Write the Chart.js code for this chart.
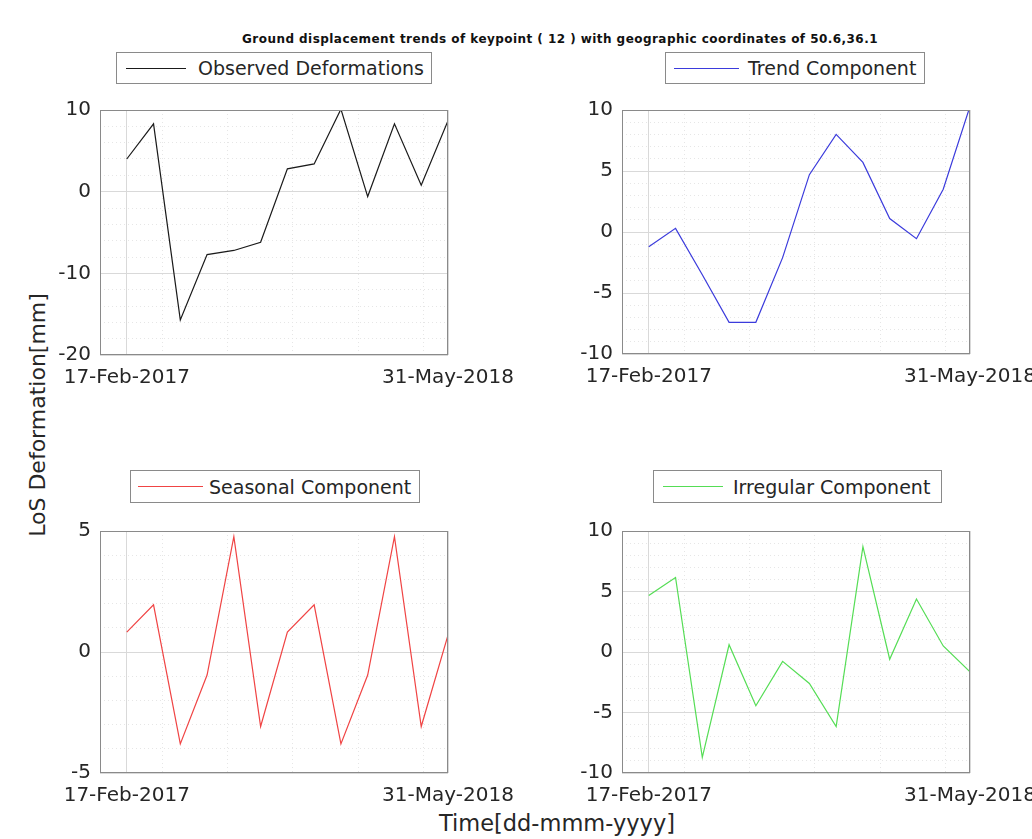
<!DOCTYPE html>
<html>
<head>
<meta charset="utf-8">
<script src="https://cdn.jsdelivr.net/npm/chart.js@4.4.0/dist/chart.umd.min.js"></script>
<style>
  html, body { margin: 0; padding: 0; background: #fff; }
  body { width: 1032px; height: 839px; overflow: hidden; position: relative; font-family: "DejaVu Sans", sans-serif; }
  canvas.panel { position: absolute; }
  #title { position: absolute; left: 0; width: 1120px; top: 32px; text-align: center; font-weight: bold; font-size: 12px; letter-spacing: 0.45px; color: #111; white-space: nowrap; }
  #xtitle { position: absolute; left: 0; width: 1114px; top: 810px; text-align: center; font-size: 22.5px; color: #262626; white-space: nowrap; }
  #ytitle { position: absolute; left: 37px; top: 415px; transform: translate(-50%, -50%) rotate(-90deg); font-size: 22px; color: #262626; white-space: nowrap; }
  .legend { position: absolute; box-sizing: border-box; border: 1px solid #8a8a8a; background: #fff; font-size: 19px; color: #262626; display: flex; align-items: center; white-space: nowrap; }
  .legend .swatch { display: inline-block; height: 0; border-top: 1px solid; }
</style>
</head>
<body>
<div id="title">Ground displacement trends of keypoint ( 12 ) with geographic coordinates of 50.6,36.1</div>
<div id="ytitle">LoS Deformation[mm]</div>
<div id="xtitle">Time[dd-mmm-yyyy]</div>

<script>
// Time-series decomposition of the LoS displacement at keypoint 12 (13 acquisitions)
const dateTicks = ['17-Feb-2017', '31-May-2018'];

const observed  = [4.0, 8.3, -15.7, -7.7, -7.2, -6.2, 2.8, 3.4, 10.1, -0.6, 8.3, 0.8, 8.7];
const trend     = [-1.2, 0.3, -3.5, -7.4, -7.4, -2.1, 4.7, 8.0, 5.7, 1.1, -0.55, 3.5, 10.3];
const seasonal  = [0.82, 1.95, -3.8, -0.95, 4.77, -3.08, 0.82, 1.95, -3.8, -0.95, 4.77, -3.08, 0.7];
const irregular = [4.66, 6.16, -8.7, 0.6, -4.44, -0.77, -2.6, -6.16, 8.7, -0.6, 4.38, 0.5, -1.64];

// minor vertical grid positions, in acquisition-index units
const minorTimeGrid = [1.35, 3.78, 6.2, 8.65, 11.1];

const panels = [
  { label: 'Observed Deformations', values: observed,  color: '#1a1a1a', yMin: -20, yMax: 10, major: 10, minor: 2,
    box: { left: 100, top: 109, width: 348, height: 246 }, legend: { left: 116, top: 52, width: 316, height: 32, line: 60, gap: 12, pad: 9 } },
  { label: 'Trend Component',       values: trend,     color: '#3b3bdc', yMin: -10, yMax: 10, major: 5, minor: 1,
    box: { left: 622, top: 109, width: 348, height: 245 }, legend: { left: 665, top: 52, width: 260, height: 32, line: 65, gap: 9, pad: 8 } },
  { label: 'Seasonal Component',    values: seasonal,  color: '#f04444', yMin: -5, yMax: 5, major: 5, minor: 1,
    box: { left: 100, top: 530, width: 348, height: 243 }, legend: { left: 130, top: 470, width: 290, height: 33, line: 65, gap: 6, pad: 7 } },
  { label: 'Irregular Component',   values: irregular, color: '#55dd55', yMin: -10, yMax: 10, major: 5, minor: 1,
    box: { left: 622, top: 530, width: 348, height: 243 }, legend: { left: 653, top: 470, width: 289, height: 33, line: 60, gap: 10, pad: 9 } }
];

const PAD_L = 80, PAD_T = 20, PAD_R = 90, PAD_B = 52;

// MATLAB-style full box around the axes
const axesBox = {
  id: 'axesBox',
  afterDatasetsDraw(chart) {
    const { ctx, chartArea: a } = chart;
    ctx.save();
    ctx.strokeStyle = '#8a8a8a';
    ctx.lineWidth = 1;
    ctx.strokeRect(Math.round(a.left) + 0.5, Math.round(a.top) + 0.5, Math.round(a.right - a.left) - 1, Math.round(a.bottom - a.top) - 1);
    ctx.restore();
  }
};

panels.forEach((p) => {
  const cv = document.createElement('canvas');
  cv.className = 'panel';
  const w = p.box.width + PAD_L + PAD_R, h = p.box.height + PAD_T + PAD_B;
  cv.width = w; cv.height = h;
  cv.style.left = (p.box.left - PAD_L) + 'px';
  cv.style.top = (p.box.top - PAD_T) + 'px';
  cv.style.width = w + 'px'; cv.style.height = h + 'px';
  document.body.appendChild(cv);

  const lastIdx = p.values.length - 1;
  const points = p.values.map((v, i) => ({ x: i, y: v }));
  const isMajorX = (c) => c.tick && (c.tick.value === 0 || c.tick.value === lastIdx);
  const isMajorY = (c) => c.tick && Math.abs(c.tick.value % p.major) < 1e-9;

  new Chart(cv.getContext('2d'), {
    type: 'line',
    data: { datasets: [{ data: points, borderColor: p.color, borderWidth: 1.2, pointRadius: 0, tension: 0, fill: false }] },
    options: {
      responsive: false,
      animation: false,
      events: [],
      layout: { padding: { left: 0, top: PAD_T, right: PAD_R, bottom: 0 } },
      plugins: { legend: { display: false }, tooltip: { enabled: false } },
      scales: {
        x: {
          type: 'linear', min: -1, max: lastIdx,
          afterBuildTicks(scale) {
            scale.ticks = [0, ...minorTimeGrid, lastIdx].map(v => ({ value: v }));
          },
          afterFit(scale) { scale.height = PAD_B; },
          ticks: {
            autoSkip: false, maxRotation: 0, minRotation: 0, padding: 11,
            color: '#262626', font: { family: 'DejaVu Sans', size: 20 },
            callback: (v) => v === 0 ? dateTicks[0] : (v === lastIdx ? dateTicks[1] : '')
          },
          grid: { drawTicks: false, lineWidth: 1, color: (c) => isMajorX(c) ? '#d9d9d9' : '#e6e6e6' },
          border: { display: false, dash: (c) => isMajorX(c) ? [] : [1, 3] }
        },
        y: {
          type: 'linear', min: p.yMin, max: p.yMax,
          afterBuildTicks(scale) {
            const t = [];
            for (let v = p.yMin; v <= p.yMax + 1e-9; v += p.minor) t.push({ value: Math.round(v * 100) / 100 });
            scale.ticks = t;
          },
          afterFit(scale) { scale.width = PAD_L; },
          ticks: {
            autoSkip: false, padding: 9,
            color: '#262626', font: { family: 'DejaVu Sans', size: 20 },
            callback: (v) => (Math.abs(v % p.major) < 1e-9) ? String(v) : ''
          },
          grid: { drawTicks: false, lineWidth: 1, color: (c) => isMajorY(c) ? '#d9d9d9' : '#e6e6e6' },
          border: { display: false, dash: (c) => isMajorY(c) ? [] : [1, 3] }
        }
      }
    },
    plugins: [axesBox]
  });

  // legend box with a line sample in the series colour
  const lg = document.createElement('div');
  lg.className = 'legend';
  lg.style.left = p.legend.left + 'px';
  lg.style.top = p.legend.top + 'px';
  lg.style.width = p.legend.width + 'px';
  lg.style.height = p.legend.height + 'px';
  lg.style.paddingLeft = p.legend.pad + 'px';
  const sw = document.createElement('span');
  sw.className = 'swatch';
  sw.style.width = p.legend.line + 'px';
  sw.style.borderTopColor = p.color;
  sw.style.marginRight = p.legend.gap + 'px';
  const tx = document.createElement('span');
  tx.textContent = p.label;
  lg.appendChild(sw);
  lg.appendChild(tx);
  document.body.appendChild(lg);
});
</script>
</body>
</html>
